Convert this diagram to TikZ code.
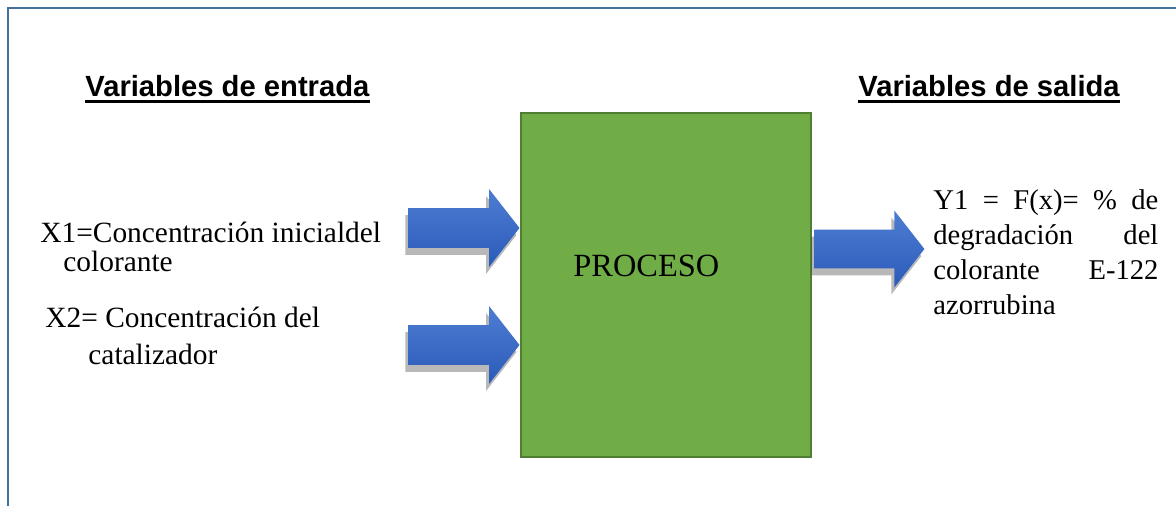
\documentclass[tikz,border=0pt]{standalone}
\usepackage{fontspec}
\setmainfont{Liberation Serif}
\newfontfamily\headfont{Liberation Sans}
\usepackage{tikz}
\usetikzlibrary{positioning,shapes.arrows,shadows}
\definecolor{framecol}{HTML}{41719C}
\definecolor{boxfill}{HTML}{70AD47}
\definecolor{boxdraw}{HTML}{507E32}
\definecolor{arrtop}{HTML}{4D7DD2}
\definecolor{arrbot}{HTML}{2B5BBA}
\tikzset{
  procbox/.style={rectangle, draw=boxdraw, fill=boxfill, line width=1pt, minimum width=145pt, minimum height=172pt, inner sep=0pt},
  bigarrow/.style={single arrow, draw=none, top color=arrtop, bottom color=arrbot, inner xsep=0pt, inner ysep=9.75pt,
                   single arrow head extend=9.5pt, single arrow tip angle=104,
                   minimum height=55.5pt,
                   drop shadow={shadow xshift=-1.5pt, shadow yshift=-3.5pt, opacity=.35, fill=black!80}},
  heading/.style={font=\headfont\bfseries\fontsize{14.6pt}{17pt}\selectfont, inner sep=0pt, anchor=base west},
  uline/.style={line width=1.3pt},
  varin/.style={font=\fontsize{14.7pt}{14.5pt}\selectfont, align=left, inner sep=0pt, anchor=base west},
  varout/.style={font=\fontsize{14.3pt}{17.5pt}\selectfont, text width=112.5pt, align=justify, inner sep=0pt, anchor=base west},
}
\begin{document}
\begin{tikzpicture}[x=0.5pt, y=-0.5pt]
\useasboundingbox (0,0) rectangle (1176,506);
%Frame
\draw[framecol, line width=1pt] (8,506) -- (8,8) -- (1176,8);

%Nodes
\node[procbox] (proceso) at (666,285) {};
\node[font=\fontsize{16.2pt}{18pt}\selectfont, inner sep=0pt, anchor=base west] (lblproc) at (573,277) {PROCESO};
\node[heading] (hin) at (85,97) {Variables de entrada};
\node[heading] (hout) at (858,97) {Variables de salida};
\node[varin] (x1) at (40,272) {X1=Concentración inicialdel\\\hspace*{11.5pt}colorante};
\node[varin, font=\fontsize{14.7pt}{18.5pt}\selectfont] (x2) at (45,365) {X2= Concentración del\\\hspace*{21.5pt}catalizador};
\node[varout] (y1) at (933,210) {Y1 = F(x)= \% de degradación del colorante E-122 azorrubina};

%Underlines
\draw[uline] ([yshift=-2.2pt]hin.base west) -- ([yshift=-2.2pt]hin.base east);
\draw[uline] ([yshift=-2.2pt]hout.base west) -- ([yshift=-2.2pt]hout.base east);

%Arrows
\node[bigarrow, anchor=tip] (in1) at ([yshift=28.5pt]proceso.west) {};
\node[bigarrow, anchor=tip] (in2) at ([yshift=-30pt]proceso.west) {};
\node[bigarrow, anchor=tail, minimum height=55pt, inner ysep=9.5pt] (out1) at ([xshift=1pt, yshift=18pt]proceso.east) {};
\end{tikzpicture}
\end{document}
